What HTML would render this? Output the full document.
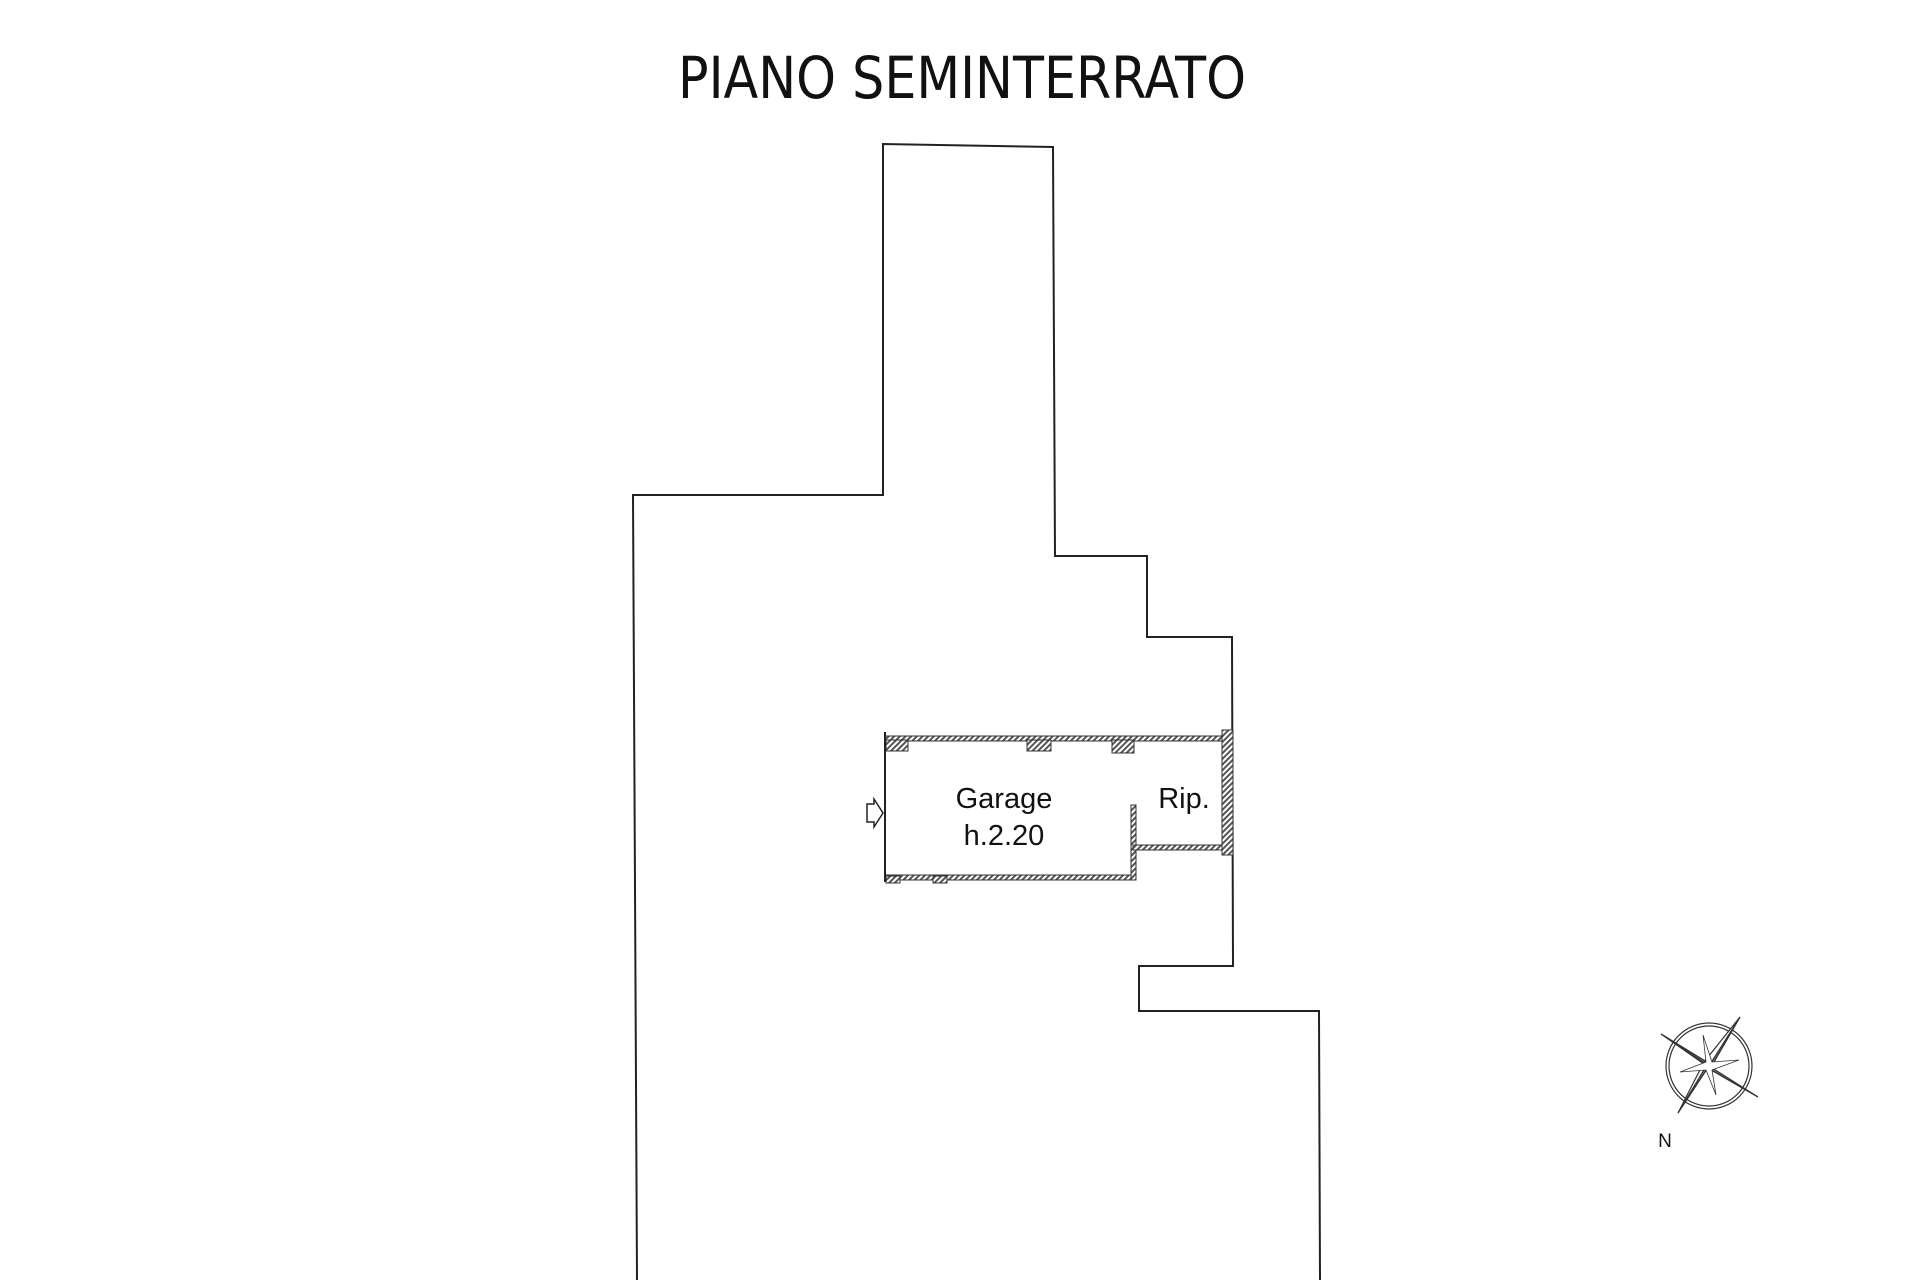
<!DOCTYPE html>
<html><head><style>
html,body{margin:0;padding:0;background:#fff;}
svg{display:block;}
</style></head><body>
<svg width="1920" height="1280" viewBox="0 0 1920 1280" xmlns="http://www.w3.org/2000/svg">
<defs>
<pattern id="h" width="4" height="4" patternUnits="userSpaceOnUse" patternTransform="rotate(45)">
<rect width="4" height="4" fill="#fff"/><rect width="2" height="4" fill="#555"/>
</pattern>
</defs>
<text x="962" y="98" text-anchor="middle" font-family="'DejaVu Sans',sans-serif" font-size="58" fill="#111" textLength="568" lengthAdjust="spacingAndGlyphs">PIANO SEMINTERRATO</text>
<polyline fill="none" stroke="#222" stroke-width="2" points="637,1280 633,495 883,495 883,144 1053,147 1055,556 1147,556 1147,637 1232,637 1233,966 1139,966 1139,1011 1319,1011 1320,1280"/>
<g stroke="#333" fill="url(#h)" stroke-width="1">
<rect x="885" y="736" width="337" height="5"/>
<rect x="885" y="875" width="250" height="5"/>
<rect x="1131" y="805" width="5" height="75"/>
<rect x="1133" y="845" width="89" height="5"/>
<rect x="1222" y="730" width="11" height="125"/>
<rect x="886" y="740" width="22" height="11"/>
<rect x="1027" y="740" width="24" height="11"/>
<rect x="1112" y="740" width="22" height="13"/>
<rect x="886" y="876" width="14" height="7"/>
<rect x="933" y="876" width="14" height="7"/>
</g>
<line x1="885" y1="732" x2="885" y2="882" stroke="#222" stroke-width="2"/>
<path d="M867,804 h7 v-5 l9,14 l-9,14 v-5 h-7 z" fill="#fff" stroke="#222" stroke-width="1.5"/>
<g font-family="'Liberation Sans',sans-serif" font-size="29" fill="#111" text-anchor="middle">
<text x="1004" y="808">Garage</text>
<text x="1004" y="845">h.2.20</text>
<text x="1184" y="808">Rip.</text>
</g>
<g stroke="#333" stroke-width="1.2">
<circle cx="1709" cy="1066" r="43" fill="none"/>
<circle cx="1709" cy="1066" r="40" fill="none"/>
<polygon points="1740,1017 1714,1062 1709,1066 1704,1070 1678,1113 1704,1062" fill="#fff"/>
<polygon points="1661,1034 1705,1061 1709,1066 1713,1071 1758,1097 1714,1071" fill="#fff"/>
<polygon points="1740,1017 1714,1062 1709,1066" fill="#777"/>
<polygon points="1661,1034 1705,1061 1709,1066" fill="#777"/>
<polygon points="1758,1097 1713,1071 1709,1066" fill="#777"/>
<polygon points="1678,1113 1704,1070 1709,1066" fill="#777"/>
<polygon points="1703,1035 1712,1062 1739,1060 1712,1070 1716,1095 1706,1070 1680,1072 1706,1062" fill="#fff" stroke-width="0.8"/>
</g>
<text x="1665" y="1147" text-anchor="middle" font-family="'Liberation Sans',sans-serif" font-size="19" fill="#111">N</text>
</svg>
</body></html>
